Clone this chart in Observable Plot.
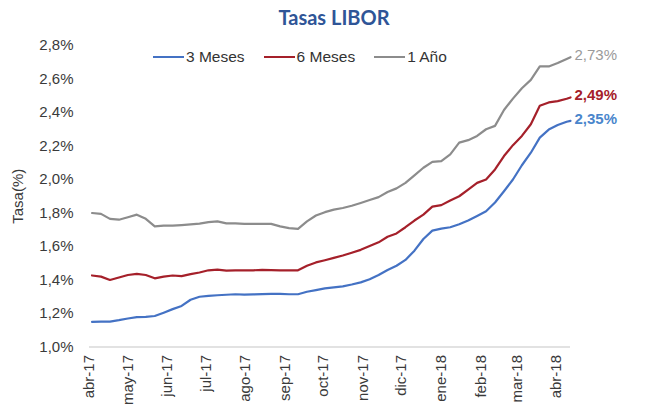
<!DOCTYPE html>
<html>
<head>
<meta charset="utf-8">
<script src="https://cdn.jsdelivr.net/npm/d3@7"></script>
<script src="https://cdn.jsdelivr.net/npm/@observablehq/plot@0.6"></script>
<style>
  body { margin: 0; background: #fff; width: 670px; height: 415px; overflow: hidden; position: relative; font-family: "Liberation Sans", Arial, sans-serif; }
  #title { position: absolute; left: 0; top: 4px; width: 668px; text-align: center; font-family: Lato, "Open Sans", sans-serif; font-weight: bold; font-size: 20px; color: #2F5597; line-height: 26px; }
  #chart { position: absolute; left: 0; top: 30px; }
  #legend { position: absolute; top: 48px; left: 153px; display: flex; align-items: center; font-size: 15.5px; color: #333; }
  .item { display: flex; align-items: center; margin-right: 19px; }
  .sw { width: 31px; height: 2.5px; margin-right: 2px; }
</style>
</head>
<body>
<div id="title">Tasas LIBOR</div>
<div id="chart"></div>
<div id="legend"></div>
<script>
const series = ["3 Meses", "6 Meses", "1 Año"];
const lineColors = ["#4472C4", "#A5202A", "#8C8C8C"];
const labelColors = ["#4A86CC", "#A5202A", "#9A9A9A"];
const months = ["ene","feb","mar","abr","may","jun","jul","ago","sep","oct","nov","dic"];
const yTicks = [1.0, 1.2, 1.4, 1.6, 1.8, 2.0, 2.2, 2.4, 2.6, 2.8];
const xTicks = ["2017-04-01","2017-05-01","2017-06-01","2017-07-01","2017-08-01","2017-09-01","2017-10-01","2017-11-01","2017-12-01","2018-01-01","2018-02-01","2018-03-01","2018-04-01"];
const xDomain = ["2017-04-01", "2018-04-12"];

const dates = [
  "2017-04-03","2017-04-10","2017-04-17","2017-04-24",
  "2017-05-01","2017-05-08","2017-05-15","2017-05-22","2017-05-29",
  "2017-06-05","2017-06-12","2017-06-19","2017-06-26",
  "2017-07-03","2017-07-10","2017-07-17","2017-07-24","2017-07-31",
  "2017-08-07","2017-08-14","2017-08-21","2017-08-28",
  "2017-09-04","2017-09-11","2017-09-18","2017-09-25",
  "2017-10-02","2017-10-09","2017-10-16","2017-10-23","2017-10-30",
  "2017-11-06","2017-11-13","2017-11-20","2017-11-27",
  "2017-12-04","2017-12-11","2017-12-18","2017-12-25",
  "2018-01-01","2018-01-08","2018-01-15","2018-01-22","2018-01-29",
  "2018-02-05","2018-02-12","2018-02-19","2018-02-26",
  "2018-03-05","2018-03-12","2018-03-19","2018-03-26",
  "2018-04-02","2018-04-09","2018-04-12"
];

const meses3 = [1.15,1.152,1.152,1.16,1.17,1.178,1.18,1.185,1.205,1.226,1.245,1.282,1.30,1.305,1.309,1.312,1.315,1.313,1.314,1.316,1.317,1.317,1.315,1.315,1.33,1.34,1.35,1.356,1.362,1.373,1.386,1.405,1.43,1.46,1.485,1.52,1.575,1.645,1.695,1.707,1.715,1.733,1.755,1.782,1.81,1.863,1.93,2.00,2.085,2.16,2.25,2.298,2.325,2.345,2.35];
const meses6 = [1.427,1.42,1.40,1.415,1.43,1.437,1.43,1.41,1.42,1.427,1.423,1.435,1.445,1.458,1.462,1.456,1.457,1.457,1.458,1.46,1.459,1.457,1.457,1.458,1.485,1.505,1.518,1.532,1.546,1.563,1.58,1.603,1.625,1.658,1.678,1.715,1.755,1.79,1.838,1.847,1.875,1.90,1.94,1.98,2.00,2.06,2.14,2.205,2.26,2.33,2.44,2.46,2.468,2.482,2.49];
const anio1 = [1.80,1.795,1.765,1.76,1.775,1.79,1.765,1.72,1.725,1.725,1.728,1.732,1.737,1.745,1.75,1.738,1.738,1.735,1.735,1.735,1.735,1.72,1.71,1.705,1.75,1.785,1.805,1.82,1.83,1.843,1.86,1.878,1.895,1.925,1.947,1.98,2.025,2.07,2.105,2.11,2.15,2.22,2.235,2.26,2.30,2.32,2.415,2.483,2.545,2.595,2.675,2.675,2.695,2.72,2.73];

const parse = d3.utcParse("%Y-%m-%d");
const allValues = [meses3, meses6, anio1];
const data = [];
allValues.forEach((vals, k) => vals.forEach((v, i) => data.push({date: parse(dates[i]), value: v, serie: series[k]})));
const fmt = v => v.toFixed(2).replace(".", ",") + "%";

const endMarks = allValues.map((vals, k) => {
  const i = vals.length - 1;
  return Plot.text([{date: parse(dates[i]), value: vals[i]}], {
    x: "date", y: "value", text: d => fmt(d.value),
    fill: labelColors[k], textAnchor: "start", dx: 4, dy: -2,
    fontWeight: k === 2 ? "normal" : "bold", fontSize: 15
  });
});

const chart = Plot.plot({
  width: 670, height: 385,
  marginLeft: 89, marginRight: 100, marginTop: 15, marginBottom: 68.5,
  style: {fontFamily: "'Liberation Sans', Arial, sans-serif", fontSize: "15px", color: "#3a3a3a", background: "white"},
  x: {type: "utc", domain: xDomain.map(parse), ticks: xTicks.map(parse),
      tickFormat: d => months[d.getUTCMonth()] + "-" + String(d.getUTCFullYear()).slice(2),
      tickRotate: -90, tickSize: 0, tickPadding: 8, label: null},
  y: {domain: [yTicks[0], yTicks[yTicks.length - 1]], ticks: yTicks,
      tickFormat: d => d.toFixed(1).replace(".", ",") + "%",
      tickSize: 0, tickPadding: 16, label: "Tasa(%)", labelAnchor: "center", labelOffset: 77, labelArrow: "none"},
  color: {domain: series, range: lineColors},
  marks: [
    Plot.ruleY([yTicks[0]], {stroke: "#d9d9d9", strokeWidth: 1.5}),
    Plot.line(data, {x: "date", y: "value", stroke: "serie", strokeWidth: 2.2, curve: "linear"}),
    ...endMarks
  ]
});
document.getElementById("chart").appendChild(chart);

const legend = document.getElementById("legend");
series.forEach((s, k) => {
  const it = document.createElement("div");
  it.className = "item";
  const sw = document.createElement("div");
  sw.className = "sw";
  sw.style.background = lineColors[k];
  const tx = document.createElement("span");
  tx.textContent = s;
  it.appendChild(sw); it.appendChild(tx);
  legend.appendChild(it);
});
</script>
</body>
</html>
